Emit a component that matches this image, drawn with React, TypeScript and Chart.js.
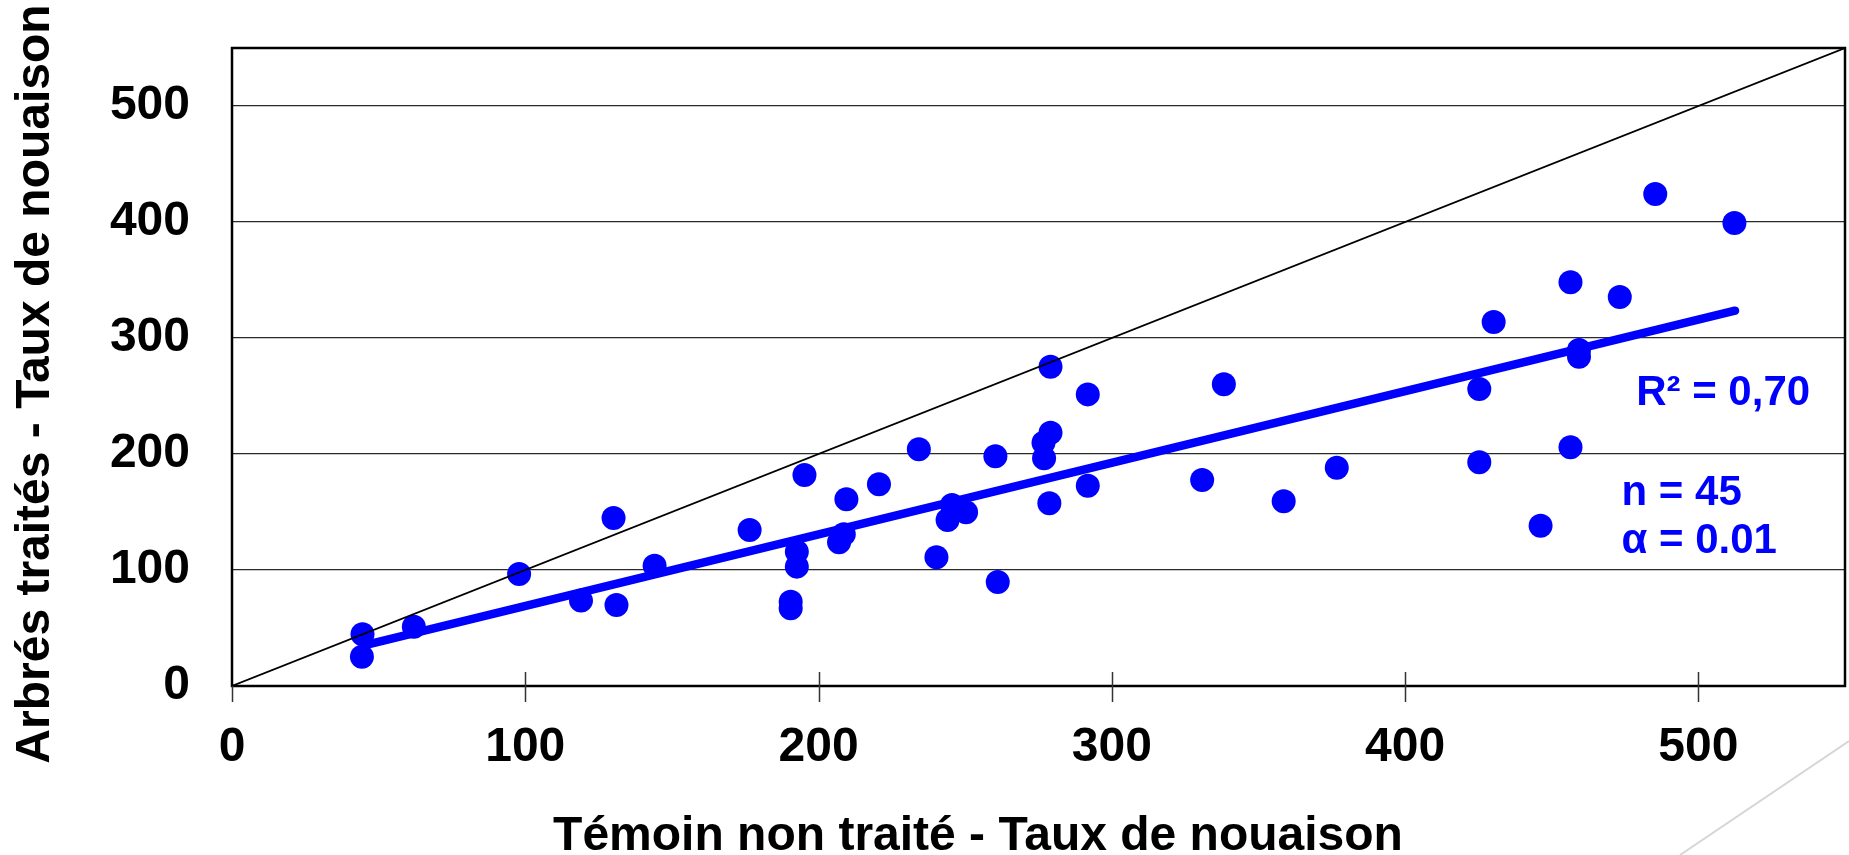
import React, { useEffect, useRef } from "react";
import { Chart, registerables } from "chart.js";

Chart.register(...registerables);

// Témoin non traité (x) – Arbrés traités (y), taux de nouaison
const temoinValues = [44.5, 44.3, 62, 97.9, 119, 130.1, 131.1, 144.1, 176.5, 195.2, 192.6, 192.6, 190.5, 190.5, 209.5, 207, 208.6, 220.6, 234.2, 240.2, 245.5, 244, 250.3, 261.1, 260.3, 279.1, 291.8, 279.1, 276.7, 276.9, 278.7, 291.8, 338.2, 330.8, 358.6, 376.7, 425.3, 425.3, 446.2, 456.4, 485.3, 512.3, 456.4, 473.2, 430.2, 459.3, 459.3];
const traitesValues = [44.6, 25.3, 51.1, 96.6, 73.6, 144.8, 69.8, 103.7, 134.5, 181.9, 115.8, 102.9, 72.7, 67, 160.9, 123.9, 130.8, 173.9, 204, 111, 156, 143.1, 149.7, 89.7, 198, 275.3, 251.4, 218.4, 209.7, 196.3, 157.5, 172.7, 260.1, 177.6, 159.2, 188.2, 256, 192.8, 138.2, 205.8, 424.1, 399.1, 348, 335.3, 313.8, 289.7, 283.9];

// Regression line end points
const trendX = [45, 512.5];
const trendY = [35, 323.5];

// Bisector y = x
const identityX = [0, 550];
const identityY = [0, 550];

const xTickValues = [0, 100, 200, 300, 400, 500];
const yTickValues = [0, 100, 200, 300, 400, 500];
const axisMax = 550;

const xTitle = "Témoin non traité - Taux de nouaison";
const yTitle = "Arbrés traités - Taux de nouaison";

const annotationTexts = ["R² = 0,70", "n = 45", "α = 0.01"];
const annotationX = [478.8, 473.8, 473.8];
const annotationY = [242, 156, 114.5];

const FONT = '"Liberation Sans", Arial, Helvetica, sans-serif';

const decorPlugin = {
  id: "decor",
  afterDatasetsDraw(chart: any) {
    const { ctx, chartArea: a, scales } = chart;
    const x = scales.x;
    const y = scales.y;
    ctx.save();
    // frame
    ctx.strokeStyle = "#000";
    ctx.lineWidth = 2.5;
    ctx.strokeRect(a.left, a.top, a.right - a.left, a.bottom - a.top);
    // crossing x tick marks
    ctx.strokeStyle = "#333";
    ctx.lineWidth = 1.5;
    for (const v of xTickValues) {
      const px = Math.round(x.getPixelForValue(v)) + 0.5;
      ctx.beginPath();
      ctx.moveTo(px, v === 0 ? a.bottom : a.bottom - 14);
      ctx.lineTo(px, a.bottom + 16);
      ctx.stroke();
    }
    // annotations
    ctx.fillStyle = "#0000FF";
    ctx.font = `bold 42px ${FONT}`;
    ctx.textAlign = "left";
    ctx.textBaseline = "alphabetic";
    annotationTexts.forEach((t, i) => {
      ctx.fillText(t, x.getPixelForValue(annotationX[i]), y.getPixelForValue(annotationY[i]));
    });
    ctx.restore();
  },
  afterDraw(chart: any) {
    const { ctx, width, height } = chart;
    ctx.save();
    ctx.fillStyle = "#000";
    ctx.font = `bold 48px ${FONT}`;
    ctx.textBaseline = "alphabetic";
    ctx.textAlign = "center";
    ctx.fillText(xTitle, 978, 850);
    ctx.translate(49, 384);
    ctx.rotate(-Math.PI / 2);
    ctx.fillText(yTitle, 0, 0);
    ctx.restore();
    // slide decoration line
    ctx.save();
    ctx.strokeStyle = "#d6d6d6";
    ctx.lineWidth = 2;
    ctx.beginPath();
    ctx.moveTo(width, 741);
    ctx.lineTo(1680, height);
    ctx.stroke();
    ctx.restore();
  },
};

export default function App() {
  const ref = useRef<HTMLCanvasElement | null>(null);
  useEffect(() => {
    if (!ref.current) return;
    const points = temoinValues.map((v, i) => ({ x: v, y: traitesValues[i] }));
    const trend = trendX.map((v, i) => ({ x: v, y: trendY[i] }));
    const identity = identityX.map((v, i) => ({ x: v, y: identityY[i] }));
    const chart = new Chart(ref.current, {
      type: "scatter",
      data: {
        datasets: [
          {
            label: "bisector",
            data: identity,
            showLine: true,
            borderColor: "#000",
            borderWidth: 1.7,
            pointRadius: 0,
            order: 0,
          },
          {
            label: "trend",
            data: trend,
            showLine: true,
            borderColor: "#0000FF",
            borderWidth: 8.5,
            borderCapStyle: "round",
            pointRadius: 0,
            order: 1,
          },
          {
            label: "points",
            data: points,
            backgroundColor: "#0000FF",
            borderWidth: 0,
            pointRadius: 12,
            pointHoverRadius: 12,
            order: 2,
          },
        ],
      },
      options: {
        responsive: false,
        animation: false,
        events: [],
        layout: { autoPadding: false, padding: { left: 0, right: 4, top: 48, bottom: 0 } },
        plugins: { legend: { display: false }, tooltip: { enabled: false }, title: { display: false } },
        scales: {
          x: {
            type: "linear",
            min: 0,
            max: axisMax,
            afterBuildTicks: (s: any) => {
              s.ticks = xTickValues.map((v) => ({ value: v }));
            },
            afterFit: (s: any) => {
              s.height = 169;
              s.paddingLeft = 0;
              s.paddingRight = 0;
            },
            grid: { display: false, drawTicks: false },
            border: { display: false },
            ticks: {
              color: "#000",
              padding: 33,
              maxRotation: 0,
              font: { family: FONT, size: 48, weight: "bold" },
            },
          },
          y: {
            type: "linear",
            min: 0,
            max: axisMax,
            afterBuildTicks: (s: any) => {
              s.ticks = yTickValues.map((v) => ({ value: v }));
            },
            afterFit: (s: any) => {
              s.width = 232;
              s.paddingTop = 0;
              s.paddingBottom = 0;
            },
            grid: { color: "#2a2a2a", lineWidth: 1.3, drawTicks: false },
            border: { display: false },
            ticks: {
              color: "#000",
              padding: 42,
              font: { family: FONT, size: 48, weight: "bold" },
            },
          },
        },
      },
      plugins: [decorPlugin],
    });
    return () => chart.destroy();
  }, []);
  return (
    <div style={{ position: "fixed", left: 0, top: 0, width: 1849, height: 855, background: "#fff" }}>
      <canvas ref={ref} width={1849} height={855} style={{ display: "block" }} />
    </div>
  );
}
